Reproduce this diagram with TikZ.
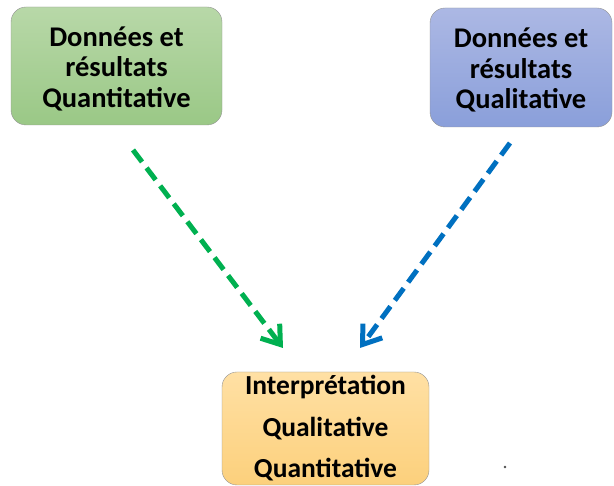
\documentclass[tikz,border=0pt]{standalone}
\usepackage{fontspec}
\setmainfont{Carlito}
\usetikzlibrary{arrows.meta}

\definecolor{quantitop}{RGB}{184,216,168}
\definecolor{quantibot}{RGB}{154,200,134}
\definecolor{qualitop}{RGB}{172,184,228}
\definecolor{qualibot}{RGB}{138,159,218}
\definecolor{intertop}{RGB}{255,224,164}
\definecolor{interbot}{RGB}{252,208,124}
\definecolor{greenarrow}{RGB}{0,176,80}
\definecolor{bluearrow}{RGB}{0,112,192}

\begin{document}
\begin{tikzpicture}[x=1pt,y=1pt,
  databox/.style={draw=gray!85,rounded corners=15pt,align=center,inner sep=0pt,
    font=\bfseries\fontsize{28.5}{30.5}\selectfont},
  interbox/.style={databox,font=\bfseries\fontsize{27.5}{41.5}\selectfont},
  dasharrow/.style={line width=5pt,dash pattern=on 15pt off 7.5pt,
    -{Straight Barb[length=17pt,width=24pt]}}]
\useasboundingbox (0,0) rectangle (614,486);
\node[databox,top color=quantitop,bottom color=quantibot,
  minimum width=211pt,minimum height=118pt] (quanti) at (116.5,420)
  {\rule{0pt}{25pt}Données et\\résultats\\Quantitative};
\node[databox,top color=qualitop,bottom color=qualibot,
  minimum width=182pt,minimum height=119pt] (quali) at (521,418.5)
  {\rule{0pt}{25pt}Données et\\résultats\\Qualitative};
\node[interbox,top color=intertop,bottom color=interbot,
  minimum width=207pt,minimum height=113pt] (interp) at (325.5,57.5)
  {Interprétation\\Qualitative\\Quantitative};
\coordinate (quantiout) at (133,336);
\coordinate (qualiout) at (510,343);
\coordinate (interinl) at (283,138);
\coordinate (interinr) at (360,138);
\draw[dasharrow,greenarrow] (quantiout) -- (interinl);
\draw[dasharrow,bluearrow] (qualiout) -- (interinr);
\fill[gray!60!black] (505,19) circle (1.3pt);
\end{tikzpicture}
\end{document}
